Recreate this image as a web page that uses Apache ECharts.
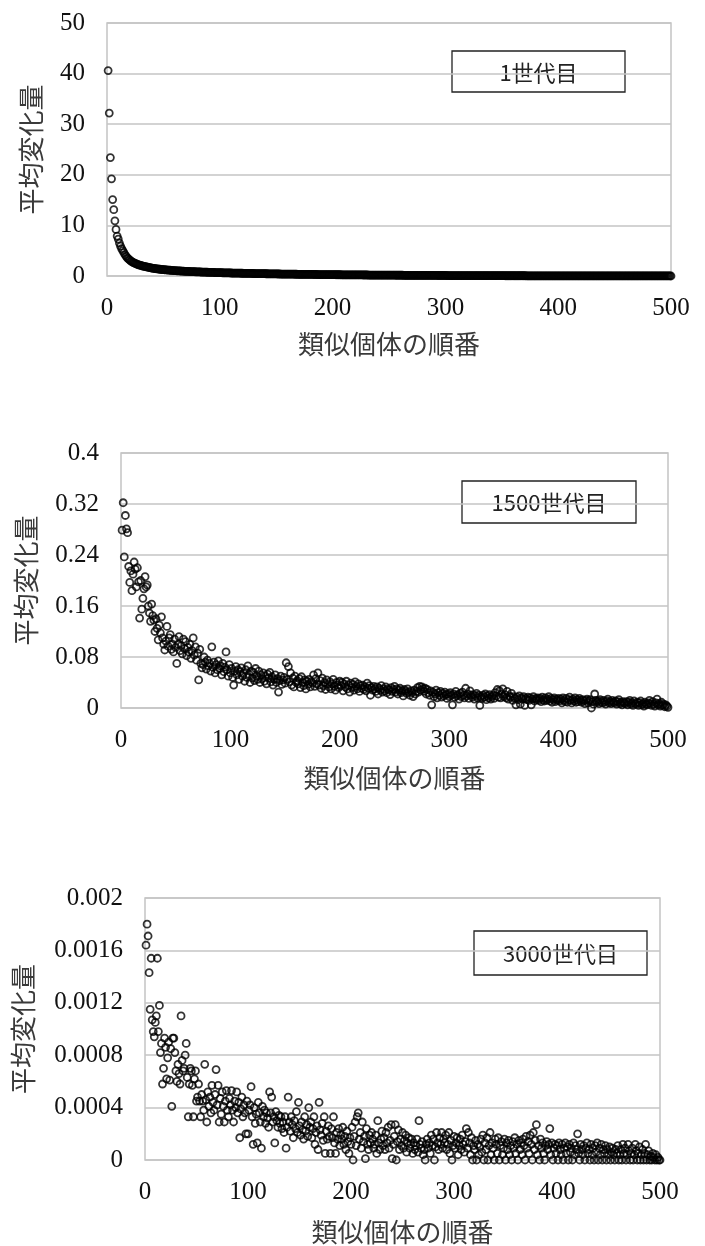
<!DOCTYPE html>
<html><head><meta charset="utf-8">
<script src="https://cdn.jsdelivr.net/npm/echarts@6/dist/echarts.min.js"></script>
<style>html,body{margin:0;padding:0;background:#fff}#c{width:705px;height:1246px}</style>
</head><body><div id="c"></div>
<script>
// Chart titles (legend boxes)
const panelLabels = ['1世代目', '1500世代目', '3000世代目'];
const xAxisTitle = '類似個体の順番';
const yAxisTitle = '平均変化量';
const xTickLabels = ['0', '100', '200', '300', '400', '500'];
const yTicks1 = ['0', '10', '20', '30', '40', '50'];
const yTicks2 = ['0', '0.08', '0.16', '0.24', '0.32', '0.4'];
const yTicks3 = ['0', '0.0004', '0.0008', '0.0012', '0.0016', '0.002'];

// Generation 1 values, rank 1..500
const gen1 = [
40.6,32.2,23.4,19.2,15.1,13.1,10.9,9.2,7.9,7.3,
6.5,5.9,5.4,5.0,4.6,4.2,3.9,3.6,3.4,3.2,
3.0,2.85,2.7,2.6,2.5,2.4,2.3,2.2,2.15,2.1,
2.0,1.95,1.9,1.85,1.8,1.75,1.7,1.65,1.6,1.56,
1.52,1.48,1.45,1.42,1.39,1.36,1.33,1.3,1.28,1.26,
1.24,1.22,1.2,1.18,1.16,1.14,1.12,1.1,1.08,1.06,
1.05,1.03,1.02,1.0,0.99,0.97,0.96,0.95,0.93,0.92,
0.91,0.9,0.89,0.88,0.87,0.86,0.85,0.84,0.83,0.82,
0.81,0.8,0.79,0.78,0.77,0.76,0.75,0.74,0.74,0.73,
0.72,0.71,0.7,0.7,0.69,0.68,0.67,0.67,0.66,0.65,
.65,.64,.63,.63,.62,.61,.61,.6,.6,.59,.58,.58,.57,.57,.56,.56,.55,.55,.54,.54,
.53,.53,.52,.52,.51,.51,.5,.5,.49,.49,.48,.48,.48,.47,.47,.46,.46,.45,.45,.45,
.44,.44,.43,.43,.43,.42,.42,.42,.41,.41,.4,.4,.4,.39,.39,.39,.38,.38,.38,.37,
.37,.37,.36,.36,.36,.35,.35,.35,.34,.34,.34,.34,.33,.33,.33,.32,.32,.32,.32,.31,
.31,.31,.3,.3,.3,.3,.29,.29,.29,.29,.28,.28,.28,.28,.27,.27,.27,.27,.26,.26,
.26,.26,.25,.25,.25,.25,.25,.24,.24,.24,.24,.23,.23,.23,.23,.23,.22,.22,.22,.22,
.22,.21,.21,.21,.21,.21,.2,.2,.2,.2,.2,.19,.19,.19,.19,.19,.19,.18,.18,.18,
.18,.18,.18,.17,.17,.17,.17,.17,.17,.16,.16,.16,.16,.16,.16,.15,.15,.15,.15,.15,
.15,.15,.14,.14,.14,.14,.14,.14,.14,.13,.13,.13,.13,.13,.13,.13,.12,.12,.12,.12,
.12,.12,.12,.12,.11,.11,.11,.11,.11,.11,.11,.11,.1,.1,.1,.1,.1,.1,.1,.1,
.1,.09,.09,.09,.09,.09,.09,.09,.09,.09,.09,.08,.08,.08,.08,.08,.08,.08,.08,.08,
.08,.08,.08,.07,.07,.07,.07,.07,.07,.07,.07,.07,.07,.07,.07,.07,.06,.06,.06,.06,
.06,.06,.06,.06,.06,.06,.06,.06,.06,.06,.06,.06,.05,.05,.05,.05,.05,.05,.05,.05,
.05,.05,.05,.05,.05,.05,.05,.05,.05,.05,.05,.04,.04,.04,.04,.04,.04,.04,.04,.04,
.04,.04,.04,.04,.04,.04,.04,.04,.04,.04,.04,.04,.04,.04,.04,.03,.03,.03,.03,.03,
.03,.03,.03,.03,.03,.03,.03,.03,.03,.03,.03,.03,.03,.03,.03,.03,.03,.03,.03,.03,
.03,.03,.03,.03,.03,.03,.03,.03,.03,.03,.02,.02,.02,.02,.02,.02,.02,.02,.02,.02,
.02,.02,.02,.02,.02,.02,.02,.02,.02,.02,.02,.02,.02,.02,.02,.02,.02,.02,.02,.02,
.02,.02,.02,.02,.02,.02,.02,.02,.02,.02,.01,.01,.01,.01,.01,.01,.01,.01,.01,.01,
.01,.01,.01,.01,.01,.01,.01,.01,.01,.01,.01,.01,.01,.01,.01,.01,.01,.01,.01,0
];

// Generation 1500 values, rank 1..500
const gen1500 = [
.279,.322,.237,.302,.281,.275,.222,.197,.215,.184,
.21,.229,.218,.19,.22,.198,.141,.2,.155,.172,
.187,.206,.19,.193,.16,.149,.136,.163,.145,.138,
.12,.14,.125,.107,.13,.118,.143,.11,.1,.091,
.105,.128,.097,.11,.115,.092,.1,.088,.108,.095,
.07,.1,.112,.09,.098,.085,.108,.093,.104,.082,
.095,.088,.1,.078,.09,.11,.083,.096,.075,.086,
.044,.092,.07,.063,.068,.08,.072,.061,.075,.066,
.07,.058,.096,.064,.072,.055,.068,.06,.074,.062,
.066,.052,.07,.057,.064,.088,.06,.05,.068,.055,
.062,.048,.036,.058,.065,.052,.06,.045,.057,.063,
.05,.055,.042,.06,.048,.066,.053,.04,.058,.047,
.056,.043,.062,.05,.045,.058,.04,.052,.046,.055,
.042,.05,.038,.053,.047,.056,.041,.049,.036,.045,
.052,.04,.046,.025,.043,.05,.037,.044,.048,.039,
.071,.045,.065,.041,.055,.036,.047,.033,.05,.04,
.043,.038,.046,.032,.049,.04,.035,.044,.03,.042,
.037,.045,.033,.041,.039,.052,.034,.046,.038,.055,
.036,.043,.031,.047,.035,.04,.029,.044,.037,.033,
.041,.03,.038,.045,.034,.028,.04,.036,.032,.042,
.035,.04,.027,.038,.033,.042,.03,.036,.025,.039,
.032,.037,.028,.041,.034,.03,.038,.026,.035,.031,
.036,.029,.033,.027,.039,.031,.035,.02,.032,.028,
.034,.03,.026,.033,.022,.031,.028,.035,.025,.03,
.027,.033,.024,.03,.028,.021,.032,.026,.029,.034,
.025,.03,.022,.028,.031,.024,.027,.019,.029,.026,
.023,.03,.025,.02,.027,.024,.018,.028,.022,.026,
.032,.025,.034,.028,.033,.03,.026,.031,.022,.029,
.024,.02,.027,.005,.025,.018,.022,.028,.016,.024,
.02,.026,.017,.023,.019,.025,.021,.015,.022,.018,
.024,.02,.005,.022,.017,.026,.019,.021,.014,.023,
.018,.025,.02,.016,.031,.019,.022,.015,.027,.02,
.017,.021,.014,.019,.023,.016,.02,.004,.018,.015,
.02,.017,.022,.013,.019,.016,.021,.014,.018,.02,
.015,.024,.019,.029,.017,.027,.016,.022,.03,.018,
.021,.016,.026,.014,.019,.017,.023,.012,.018,.015,
.005,.017,.013,.019,.006,.016,.014,.018,.004,.015,
.013,.017,.012,.016,.005,.014,.018,.011,.015,.013,
.016,.012,.015,.01,.017,.013,.011,.016,.012,.014,
.018,.011,.015,.009,.013,.016,.01,.014,.012,.015,
.011,.014,.008,.016,.012,.01,.015,.009,.013,.017,
.012,.008,.014,.011,.016,.009,.013,.01,.015,.012,
.009,.013,.011,.007,.012,.014,.008,.011,.013,0,
.01,.006,.022,.012,.009,.011,.007,.013,.01,.008,
.012,.009,.006,.011,.014,.008,.01,.007,.012,.009,
.008,.011,.006,.01,.013,.007,.009,.005,.01,.008,
.007,.01,.005,.009,.012,.006,.008,.004,.011,.007,
.006,.009,.004,.008,.011,.005,.007,.003,.009,.006,
.005,.008,.012,.007,.004,.01,.006,.003,.008,.014,
.005,.007,.003,.009,.004,.006,.002,.005,.003,.001
];

// Generation 3000 values, rank 1..500
const gen3000 = [
.00164,.0018,.00171,.00143,.00115,.00154,.00107,.00098,.00094,.00105,
.0011,.00154,.00098,.00118,.00082,.00089,.00058,.0007,.00093,.00086,
.00062,.00078,.0009,.00061,.00085,.00041,.00093,.00093,.00082,.00068,
.0006,.00073,.00066,.00058,.0011,.00076,.00068,.0007,.0008,.00089,
.00063,.00033,.00058,.0007,.00068,.00057,.00033,.00062,.00068,.00045,
.00048,.00058,.00045,.00033,.0005,.00045,.00038,.00073,.00046,.00029,
.00052,.00041,.00048,.00036,.00057,.00044,.00038,.0005,.00069,.00042,
.00057,.00029,.00047,.00035,.00052,.00041,.00029,.00045,.00053,.00038,
.00033,.00047,.00042,.00053,.00038,.00029,.00045,.0004,.00052,.00036,
.00044,.00017,.00039,.00048,.00033,.00042,.00036,.0002,.00045,.0002,
.00038,.00042,.00056,.00033,.00012,.0004,.00028,.00035,.00013,.00044,
.00036,.00029,.00009,.00041,.00033,.00038,.00028,.00036,.00032,.00025,
.00052,.00036,.00048,.00029,.00033,.00013,.00037,.0003,.00025,.00034,
.00028,.00033,.00024,.00029,.00021,.00033,.00009,.00025,.00048,.00029,
.00022,.00033,.00027,.00017,.0003,.00024,.00037,.00021,.00044,.00026,
.00019,.00029,.00023,.00016,.00033,.00022,.00027,.00018,.0004,.00025,
.00029,.00017,.00024,.00033,.00012,.00021,.00026,.00008,.00044,.00023,
.00019,.00028,.00015,.00033,.00005,.00022,.00016,.00026,.00018,.00005,
.00024,.00017,.00033,.00013,.00005,.00021,.00016,.00024,.00011,.00019,
.00016,.00025,.00012,.00018,.00008,.00022,.00014,.00005,.00017,.00012,
.00025,0,.00018,.00029,.00011,.00033,.00036,.00016,.00021,.00009,
.00029,.00014,.00018,.00001,.00024,.00012,.00008,.00019,.00013,.00021,
.00016,.00009,.00012,.00019,.00005,.0003,.00013,.00008,.00016,.00022,
.00011,.00017,.00008,.00021,.00013,.00025,.00009,.00015,.00027,.00001,
.00012,.00018,.00027,0,.00014,.00023,.00008,.00016,.00011,.00021,
.00009,.00015,.00019,.00006,.00013,.00017,.00009,.00012,.00016,.00005,
.00013,.00008,.00011,.00016,.00006,.0003,.00012,.00009,.00014,.00004,
.00008,0,.00012,.00016,.00009,.00013,.00005,.00019,.00011,.00016,
0,.0001,.00021,.00013,.00008,.00017,.00012,.00021,.00009,.00016,
.00013,.00019,.00008,.00012,.00021,.00005,.00015,0,.00011,.00018,
.00009,.00013,.00017,.00004,.00011,.00016,.00008,.00019,.00012,.00006,
.00014,.00024,.00009,.00021,.00013,.00004,.00017,0,.00011,.00008,
.00015,0,.00012,.00004,.0001,.00016,.00006,.00019,0,.00013,
.00008,.00017,0,.00011,.00021,.00004,.00013,.00009,0,.00016,
.00012,.00005,.00017,0,.00011,.00014,.00004,.00009,.00016,0,
.00013,.00008,.00015,.00004,.00011,0,.00014,.00009,.00017,.00005,
.00012,0,.00015,.00008,.00013,.00004,.00016,.00011,0,.00018,
.00009,.00014,.00005,.00019,.00012,0,.00021,.00008,.00015,.00027,
.00004,.00011,0,.00016,.00009,.00013,.00005,0,.00011,.00014,
.00008,.00012,.00024,.00004,.00013,0,.00009,.00012,.00005,.00011,
0,.00013,.00008,.00004,.00012,0,.00009,.00013,.00005,.0001,
0,.00012,.00006,.00009,0,.00013,.00004,.00011,.00008,.0002,
.00005,0,.00012,.00008,.00004,.00011,0,.00009,.00013,.00005,
.00008,0,.00012,.00004,.00009,0,.00011,.00006,.00013,0,
.00009,.00004,.00012,0,.00008,.00005,.00011,0,.00008,.00004,
.0001,0,.00006,.00009,.00004,0,.00008,.00005,.00011,0,
.00004,.00008,0,.00012,.00005,.00009,0,.00004,.00012,.00007,
0,.00005,.00009,0,.00004,.00012,.00007,0,.00005,.0001,
0,.00004,.00008,0,.00005,.00012,0,.00004,.00007,0,
.00003,0,.00005,.00002,0,.00004,0,.00002,0,0
];

const panels = [
  { values: gen1, yMax: 50, yInterval: 10, yTicks: yTicks1, label: panelLabels[0],
    grid: { left: 107, top: 23, right: 34, height: 253 }, xNameGap: 55, yNameGap: 63,
    box: { x: 452, y: 51, w: 173, h: 41 } },
  { values: gen1500, yMax: 0.4, yInterval: 0.08, yTicks: yTicks2, label: panelLabels[1],
    grid: { left: 121, top: 453, right: 37, height: 255 }, xNameGap: 57, yNameGap: 82,
    box: { x: 462, y: 481, w: 174, h: 42 } },
  { values: gen3000, yMax: 0.002, yInterval: 0.0004, yTicks: yTicks3, label: panelLabels[2],
    grid: { left: 145, top: 898, right: 45, height: 265 }, xNameGap: 59, yNameGap: 109,
    box: { x: 474, y: 931, w: 173, h: 44 } }
];

const gridColor = '#c4c4c4';
const tickFont = 'Liberation Serif';
const cjkFont = 'Noto Sans CJK JP';

const option = {
  animation: false,
  backgroundColor: '#fff',
  grid: panels.map(p => Object.assign({ show: true, borderColor: gridColor, borderWidth: 1.5, backgroundColor: 'transparent' }, p.grid)),
  xAxis: panels.map((p, i) => ({
    type: 'value', gridIndex: i, min: 0, max: 500, interval: 100,
    axisLine: { show: false }, axisTick: { show: false }, splitLine: { show: false },
    axisLabel: { margin: 20, fontFamily: tickFont, fontSize: 25, color: '#111',
      formatter: v => xTickLabels[Math.round(v / 100)] },
    name: xAxisTitle, nameLocation: 'middle', nameGap: p.xNameGap,
    nameTextStyle: { fontFamily: cjkFont, fontSize: 26, color: '#3a3a3a' }
  })),
  yAxis: panels.map((p, i) => ({
    type: 'value', gridIndex: i, min: 0, max: p.yMax, interval: p.yInterval,
    axisLine: { show: false }, axisTick: { show: false },
    splitLine: { show: true, lineStyle: { color: gridColor, width: 1.5 } },
    axisLabel: { margin: 22, fontFamily: tickFont, fontSize: 25, color: '#111',
      formatter: v => p.yTicks[Math.round(v / p.yInterval)] },
    name: yAxisTitle, nameLocation: 'middle', nameGap: p.yNameGap, nameRotate: 90,
    nameTextStyle: { fontFamily: cjkFont, fontSize: 26, color: '#3a3a3a' }
  })),
  series: panels.map((p, i) => ({
    type: 'scatter', xAxisIndex: i, yAxisIndex: i, clip: false,
    symbol: 'circle', symbolSize: 7,
    itemStyle: { color: 'rgba(0,0,0,0)', borderColor: '#000', borderWidth: 1.8 },
    data: p.values.map((v, k) => [k + 1, v])
  })),
  graphic: panels.map(p => ({
    type: 'group', z: 100,
    children: [
      { type: 'rect', shape: { x: p.box.x, y: p.box.y, width: p.box.w, height: p.box.h },
        style: { fill: '#fff', stroke: '#222', lineWidth: 1.3 } },
      { type: 'text', x: p.box.x + p.box.w / 2, y: p.box.y + p.box.h / 2 + 1,
        style: { text: p.label, fontFamily: cjkFont, fontSize: 22, fill: '#222',
          align: 'center', verticalAlign: 'middle' } }
    ]
  }))
};

const chart = echarts.init(document.getElementById('c'), null, { renderer: 'canvas' });
chart.setOption(option);
</script></body></html>
